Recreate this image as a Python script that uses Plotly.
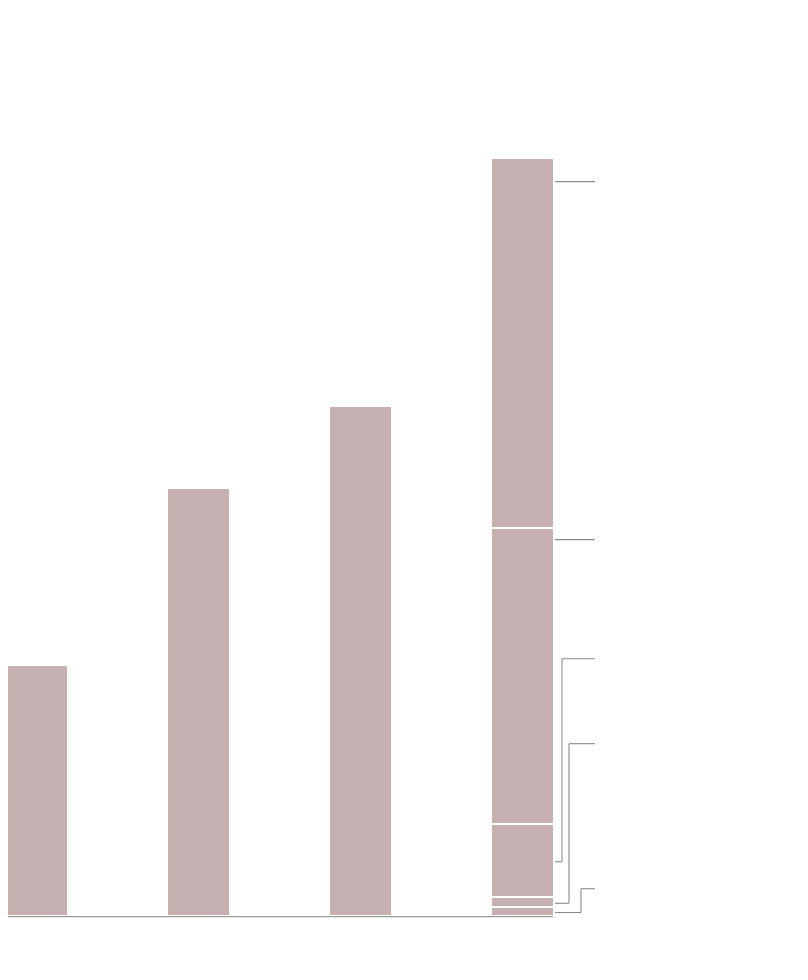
import plotly.graph_objects as go

# ---- data ----
categories = ["A", "B", "C", "D"]
single_values = [25.1, 42.8, 51.0]            # first three bars
stack_values = [0.84, 1.0, 7.3, 29.6, 37.0]   # last bar, bottom -> top
label_y = [2.8, 17.3, 25.8, 37.7, 73.5]       # where each leader line ends (bottom -> top)

BAR_COLOR = "#c6b0b1"
LINE_COLOR = "#8a8a8a"
W, H = 808, 980
BAR_W = 0.39

fig = go.Figure()
fig.add_trace(go.Bar(
    x=categories[:3], y=single_values, width=BAR_W,
    marker=dict(color=BAR_COLOR, line=dict(color="white", width=1.6)),
    hoverinfo="skip", showlegend=False,
))
for v in stack_values:
    fig.add_trace(go.Bar(
        x=[categories[3]], y=[v], width=BAR_W,
        marker=dict(color=BAR_COLOR, line=dict(color="white", width=1.6)),
        hoverinfo="skip", showlegend=False,
    ))

# leader lines from the stacked bar
x_start, x_end = 547 / W, 587 / W
elbow_x = [573 / W, 561 / W, 554 / W]
base = 0.0
shapes = []
for i, v in enumerate(stack_values):
    mid = base + v / 2
    base += v
    ly = label_y[i]
    if i < 3:
        ex = elbow_x[i]
        shapes.append(dict(type="line", xref="paper", yref="y", x0=x_start, x1=ex, y0=mid, y1=mid,
                           line=dict(color=LINE_COLOR, width=1.1)))
        shapes.append(dict(type="line", xref="paper", yref="y", x0=ex, x1=ex, y0=mid, y1=ly,
                           line=dict(color=LINE_COLOR, width=1.1)))
        shapes.append(dict(type="line", xref="paper", yref="y", x0=ex, x1=x_end, y0=ly, y1=ly,
                           line=dict(color=LINE_COLOR, width=1.1)))
    else:
        shapes.append(dict(type="line", xref="paper", yref="y", x0=x_start, x1=x_end, y0=ly, y1=ly,
                           line=dict(color=LINE_COLOR, width=1.3)))

# baseline
shapes.append(dict(type="line", xref="paper", yref="y", x0=0, x1=545 / W, y0=0, y1=0,
                   line=dict(color="#9a9a9a", width=1.2)))

fig.update_layout(
    width=W, height=H,
    margin=dict(l=0, r=0, t=0, b=0),
    barmode="stack",
    bargap=0,
    plot_bgcolor="white", paper_bgcolor="white",
    xaxis=dict(visible=False, range=[-0.1821, 4.8055], type="category"),
    yaxis=dict(visible=False, range=[-7.13, 90.87]),
    shapes=shapes,
)

fig.write_html("out.html")
